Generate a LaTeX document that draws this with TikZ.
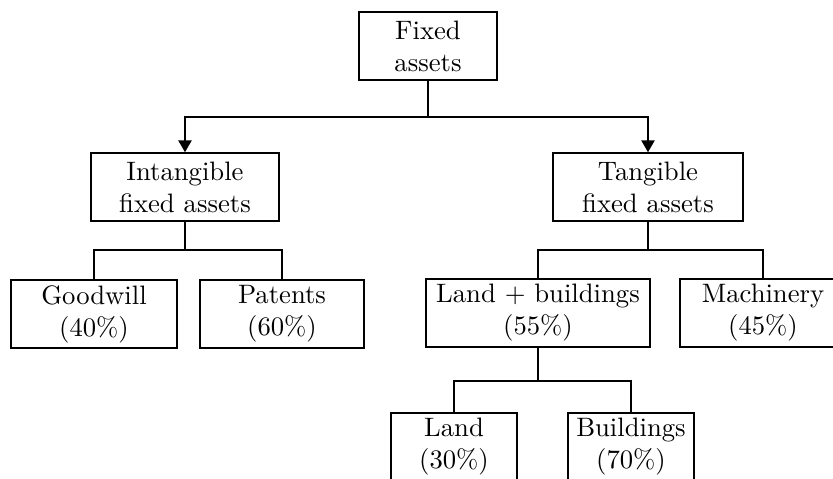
\documentclass[tikz,border=0pt]{standalone}
\usetikzlibrary{arrows.meta}
\begin{document}
\begin{tikzpicture}[x=0.375pt,y=-0.375pt,
  box/.style={draw,line width=0.55pt,align=center,inner sep=0pt,minimum height=25.5pt},
  conn/.style={line width=0.7pt},
  arr/.style={conn,-{Triangle[length=4.5pt,width=5pt]}}]
\useasboundingbox (0,0) rectangle (833,479);
\node[box,minimum width=51.75pt] (fixed) at (428,46) {Fixed\\assets};
\node[box,minimum width=70.5pt] (intang) at (185,187) {Intangible\\fixed assets};
\node[box,minimum width=71.25pt] (tang) at (648,187) {Tangible\\fixed assets};
\node[box,minimum width=62.25pt] (goodwill) at (94,314) {Goodwill\\(40\%)};
\node[box,minimum width=61.5pt] (patents) at (282,314) {Patents\\(60\%)};
\node[box,minimum width=84pt] (lb) at (538,313) {Land + buildings\\(55\%)};
\node[box,minimum width=62.25pt] (mach) at (763,313) {Machinery\\(45\%)};
\node[box,minimum width=47.25pt] (land) at (454,447) {Land\\(30\%)};
\node[box,minimum width=47.25pt] (build) at (631,447) {Buildings\\(70\%)};
\coordinate (j1) at (428,117);
\coordinate (j2) at (185,250);
\coordinate (j3) at (648,250);
\coordinate (j4) at (538,381);
\draw[conn] (fixed.south) -- (j1);
\draw[arr] (j1) -| (intang.north);
\draw[arr] (j1) -| (tang.north);
\draw[conn] (intang.south) -- (j2) -| (goodwill.north);
\draw[conn] (j2) -| (patents.north);
\draw[conn] (tang.south) -- (j3) -| (lb.north);
\draw[conn] (j3) -| (mach.north);
\draw[conn] (lb.south) -- (j4) -| (land.north);
\draw[conn] (j4) -| (build.north);
\end{tikzpicture}
\end{document}
